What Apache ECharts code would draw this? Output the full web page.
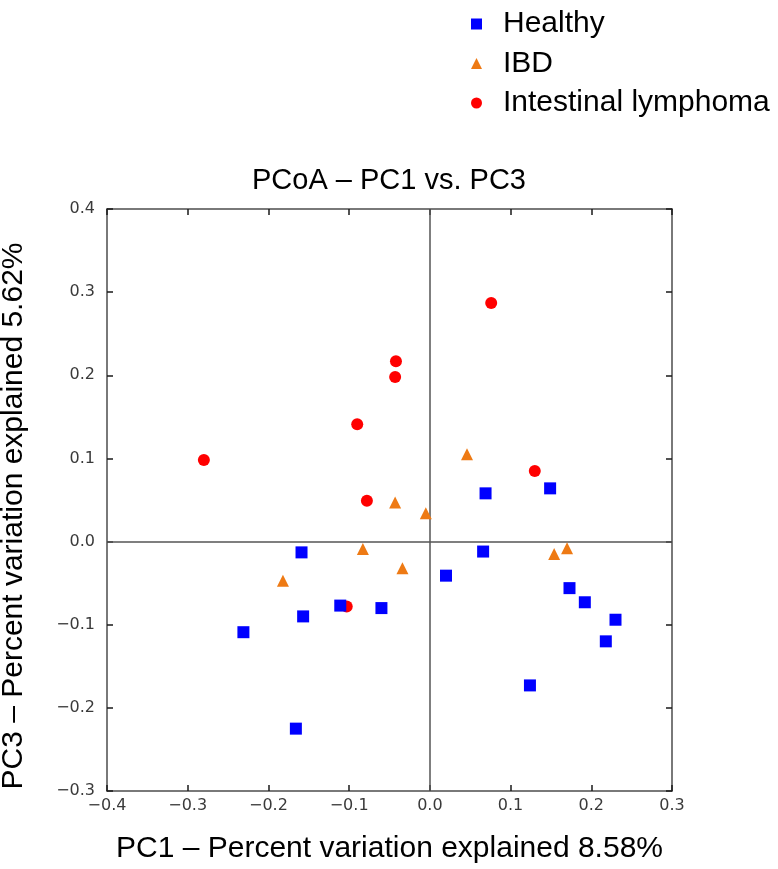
<!DOCTYPE html>
<html>
<head>
<meta charset="utf-8">
<script src="https://cdn.jsdelivr.net/npm/echarts@6/dist/echarts.min.js"></script>
<style>
html,body{margin:0;padding:0;background:#fff;}
#chart{width:778px;height:869px;}
</style>
</head>
<body>
<div id="chart"></div>
<script>
// ---- data ----
const seriesNames = ['Healthy', 'IBD', 'Intestinal lymphoma'];

const healthyPC1 = [-0.159, 0.020, -0.111, -0.060, -0.157, -0.231, -0.166, 0.069, 0.149, 0.066, 0.173, 0.192, 0.230, 0.218, 0.124];
const healthyPC3 = [-0.013, -0.041, -0.077, -0.080, -0.090, -0.109, -0.225, 0.058, 0.064, -0.012, -0.056, -0.073, -0.094, -0.120, -0.173];

const ibdPC1 = [0.046, -0.043, -0.005, -0.083, -0.034, -0.182, 0.154, 0.170];
const ibdPC3 = [0.105, 0.047, 0.034, -0.009, -0.032, -0.047, -0.015, -0.008];

const lymphomaPC1 = [-0.280, -0.090, -0.042, -0.043, 0.076, 0.130, -0.078, -0.103];
const lymphomaPC3 = [0.098, 0.141, 0.217, 0.198, 0.287, 0.085, 0.049, -0.078];

const xTicks = [-0.4, -0.3, -0.2, -0.1, 0.0, 0.1, 0.2, 0.3];
const yTicks = [-0.3, -0.2, -0.1, 0.0, 0.1, 0.2, 0.3, 0.4];

const chartTitle = 'PCoA \u2013 PC1 vs. PC3';
const xTitle = 'PC1 \u2013 Percent variation explained 8.58%';
const yTitle = 'PC3 \u2013 Percent variation explained 5.62%';

// ---- build ----
function pairs(xs, ys) { return xs.map((x, i) => [x, ys[i]]); }
function tickFmt(v) {
  const s = (Math.round(v * 10) / 10).toFixed(1);
  return s.replace('-', '\u2212');
}

const colors = { 'Healthy': '#0000ff', 'IBD': '#ee7a14', 'Intestinal lymphoma': '#ff0000' };
const symbols = { 'Healthy': 'rect', 'IBD': 'triangle', 'Intestinal lymphoma': 'circle' };

const frameColor = '#4d4d4d';
const tickColor = '#1a1a1a';
const labelFont = 'DejaVu Sans';
const textFont = 'Liberation Sans, Arial, sans-serif';

function makeX(pos, showLabels) {
  return {
    type: 'value', position: pos,
    min: xTicks[0], max: xTicks[xTicks.length - 1], interval: 0.1,
    axisLine: { show: true, onZero: false, lineStyle: { color: frameColor, width: 1.5 } },
    axisTick: { show: true, inside: true, length: 6, lineStyle: { color: tickColor, width: 1.5 } },
    axisLabel: { show: showLabels, formatter: tickFmt, fontFamily: labelFont, fontSize: 16, color: '#3a3a3a', margin: 7 },
    splitLine: { show: false }
  };
}
function makeY(pos, showLabels) {
  return {
    type: 'value', position: pos,
    min: yTicks[0], max: yTicks[yTicks.length - 1], interval: 0.1,
    axisLine: { show: true, onZero: false, lineStyle: { color: frameColor, width: 1.5 } },
    axisTick: { show: true, inside: true, length: 6, lineStyle: { color: tickColor, width: 1.5 } },
    axisLabel: { show: showLabels, formatter: tickFmt, fontFamily: labelFont, fontSize: 16, color: '#3a3a3a', margin: 12 },
    splitLine: { show: false }
  };
}

const xBottom = makeX('bottom', true);
xBottom.name = xTitle;
xBottom.nameLocation = 'middle';
xBottom.nameGap = 43;
xBottom.nameTextStyle = { fontFamily: textFont, fontSize: 30, color: '#000' };

const option = {
  backgroundColor: '#fff',
  animation: false,
  title: {
    text: chartTitle, left: 'center', top: 161,
    textStyle: { fontFamily: textFont, fontSize: 29, fontWeight: 'normal', color: '#000' }
  },
  legend: {
    orient: 'vertical', left: 466, top: 4,
    itemWidth: 11, itemHeight: 11, itemGap: 9.5,
    textStyle: { fontFamily: textFont, fontSize: 30, color: '#000', lineHeight: 30, padding: [0, 0, 0, 16] },
    data: seriesNames.map(n => ({ name: n, icon: symbols[n], itemStyle: { color: colors[n], opacity: 1 } }))
  },
  grid: { left: 107, right: 106, top: 209, bottom: 77 },
  xAxis: [xBottom, makeX('top', false)],
  yAxis: [makeY('left', true), makeY('right', false)],
  graphic: [{
    type: 'text', x: 14, y: 516, rotation: Math.PI / 2,
    style: { text: yTitle, font: '30px Liberation Sans', fill: '#000', align: 'center', verticalAlign: 'middle' }
  }],
  series: [
    {
      name: 'Intestinal lymphoma', type: 'scatter', symbol: symbols['Intestinal lymphoma'], symbolSize: 12,
      itemStyle: { color: colors['Intestinal lymphoma'], opacity: 1 },
      data: pairs(lymphomaPC1, lymphomaPC3),
      z: 3,
      markLine: {
        silent: true, symbol: 'none', label: { show: false }, z: 1,
        lineStyle: { color: '#555', width: 1.5, type: 'solid' },
        data: [{ xAxis: 0 }, { yAxis: 0 }]
      }
    },
    {
      name: 'IBD', type: 'scatter', symbol: symbols['IBD'], symbolSize: 12,
      itemStyle: { color: colors['IBD'], opacity: 1 },
      data: pairs(ibdPC1, ibdPC3), z: 4
    },
    {
      name: 'Healthy', type: 'scatter', symbol: symbols['Healthy'], symbolSize: 12,
      itemStyle: { color: colors['Healthy'], opacity: 1 },
      data: pairs(healthyPC1, healthyPC3), z: 5
    }
  ]
};

const chart = echarts.init(document.getElementById('chart'), null, { renderer: 'canvas' });
chart.setOption(option);
</script>
</body>
</html>
